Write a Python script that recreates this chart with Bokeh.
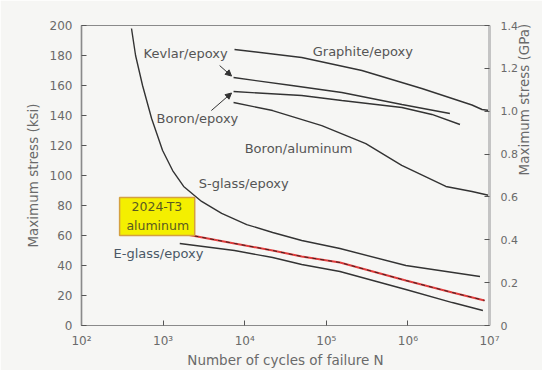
import math
from bokeh.plotting import figure
from bokeh.models import (Range1d, LinearAxis, FixedTicker, CustomJSTickFormatter,
                          Arrow, NormalHead, BoxAnnotation)
from bokeh.core.properties import value
from bokeh.embed import file_html
from bokeh.resources import INLINE

# ---- data (cycles N, maximum stress in ksi) ----
graphite_N = [7500, 50000, 273000, 1480000, 6100000, 8100000, 10000000]
graphite_ksi = [184, 178.7, 170, 158, 147, 144, 143.3]

kevlar_N = [7300, 37800, 155000, 844000, 3270000]
kevlar_ksi = [165.3, 160, 155.3, 147.3, 141.3]

boron_epoxy_N = [7300, 50000, 155000, 844000, 1970000, 4350000]
boron_epoxy_ksi = [156, 153.3, 150, 145.3, 140.7, 134]

boron_al_N = [7300, 22000, 88000, 305000, 840000, 2920000, 6100000, 10000000]
boron_al_ksi = [148.7, 143.3, 133.3, 121.3, 106.7, 92.7, 89.3, 86.7]

sglass_N = [410, 460, 560, 723, 986, 1309, 1786, 2965, 5220, 10590, 22030,
            50000, 147000, 944000, 7640000]
sglass_ksi = [198, 180, 160, 138, 116.7, 103.3, 92.7, 82.7, 74.7, 67.3, 62,
              56.7, 51.3, 40, 32.7]

al2024_N = [1940, 7500, 22000, 50000, 147000, 944000, 3500000, 8700000]
al2024_ksi = [60.7, 54.7, 50, 46, 42, 30, 22, 16.7]

eglass_N = [1600, 7500, 22000, 50000, 147000, 944000, 3500000, 8300000]
eglass_ksi = [54.7, 50, 45.3, 40.7, 36, 24, 15.3, 10]

x_ticks = [1e2, 1e3, 1e4, 1e5, 1e6, 1e7]
y_ticks = [0, 20, 40, 60, 80, 100, 120, 140, 160, 180, 200]
gpa_ticks = [0, 0.2, 0.4, 0.6, 0.8, 1.0, 1.2, 1.4]

label_texts = ["Kevlar/epoxy", "Boron/epoxy", "Graphite/epoxy", "Boron/aluminum", "S-glass/epoxy"]
label_N = [577, 832, 68200, 10000, 2730]
label_ksi = [181.3, 138, 182.7, 118, 94.7]

eglass_label_N = [247]
eglass_label_ksi = [48]

box_left, box_right, box_top, box_bottom = 293, 2440, 85.3, 60
box_texts = ["2024-T3", "aluminum"]
box_text_N = [840, 860]
box_text_ksi = [79.5, 66.5]

# arrows: (x_start, y_start, x_end, y_end)
kevlar_arrow = (4930, 173.3, 6900, 166.3)
boron_arrow = (3900, 143.3, 6900, 155)

BG = "#f6f6f4"
FONT = "DejaVu Sans"

p = figure(width=542, height=370, x_axis_type="log",
           x_range=Range1d(1e2, 1e7), y_range=Range1d(0, 200),
           output_backend="svg", toolbar_location=None,
           min_border_left=81, min_border_right=53,
           min_border_top=25, min_border_bottom=45)
p.background_fill_color = BG
p.border_fill_color = BG
p.outline_line_color = "#8a8a8a"
p.outline_line_width = 1.2
p.xgrid.visible = False
p.ygrid.visible = False

p.extra_y_ranges = {"gpa": Range1d(0, 1.4)}
raxis = LinearAxis(y_range_name="gpa")
p.add_layout(raxis, "right")

xa = p.xaxis[0]
ya = p.yaxis[0]
xa.ticker = FixedTicker(ticks=x_ticks)
xa.formatter = CustomJSTickFormatter(code="""
const s = {2:'\u00b2', 3:'\u00b3', 4:'\u2074', 5:'\u2075', 6:'\u2076', 7:'\u2077'};
return '10' + s[Math.round(Math.log10(tick))];
""")
ya.ticker = FixedTicker(ticks=y_ticks)
raxis.ticker = FixedTicker(ticks=gpa_ticks)
raxis.formatter = CustomJSTickFormatter(code="return tick == 0 ? '0' : tick.toFixed(1);")

for ax in (xa, ya, raxis):
    ax.major_tick_in = 5
    ax.major_tick_out = 0
    ax.minor_tick_in = 0
    ax.minor_tick_out = 0
    ax.major_tick_line_color = "#555555"
    ax.major_label_text_font = FONT
    ax.major_label_text_font_size = "12px"
    ax.major_label_text_color = "#6a6a6a"
    ax.axis_label_text_font = FONT
    ax.axis_label_text_font_size = "13.5px"
    ax.axis_label_text_font_style = "normal"
    ax.axis_label_text_color = "#6a6a6a"

xa.axis_line_color = "#8a8a8a"
ya.axis_line_color = "#8a8a8a"
ya.axis_line_width = 1.5
raxis.axis_line_color = "#c4c4c4"
raxis.axis_line_width = 3
raxis.major_label_text_font_size = "11px"

xa.axis_label = "Number of cycles of failure N"
ya.axis_label = "Maximum stress (ksi)"
raxis.axis_label = "Maximum stress (GPa)"
raxis.axis_label_orientation = math.pi / 2
xa.major_label_standoff = 8
xa.axis_label_standoff = 1
ya.major_label_standoff = 9
ya.axis_label_standoff = 6
raxis.major_label_standoff = 11
raxis.axis_label_standoff = 3

# outer scan frame (top and left edges of the picture)
p.add_layout(BoxAnnotation(left=-69, right=700, top=318, bottom=-200,
                           left_units="screen", right_units="screen",
                           top_units="screen", bottom_units="screen",
                           fill_alpha=0, line_color="#7a7a7a", line_width=1.5,
                           level="underlay"))

LC = "#333333"
for xs, ys in ((graphite_N, graphite_ksi), (kevlar_N, kevlar_ksi),
               (boron_epoxy_N, boron_epoxy_ksi), (boron_al_N, boron_al_ksi),
               (sglass_N, sglass_ksi), (eglass_N, eglass_ksi)):
    p.line(xs, ys, line_color=LC, line_width=1.4)

p.line(al2024_N, al2024_ksi, line_color="#e03c3c", line_width=2)
p.line(al2024_N, al2024_ksi, line_color="#402020", line_width=1, line_dash="4 4")

p.quad(left=[box_left], right=[box_right], top=[box_top], bottom=[box_bottom],
       fill_color="#f4ef00", line_color="#d4a040", line_width=1.5)
p.text(x=box_text_N, y=box_text_ksi, text=box_texts, text_font=value(FONT),
       text_font_size="12.5px", text_color="#5a5a20", text_align="center",
       text_baseline="middle")

p.text(x=label_N, y=label_ksi, text=label_texts, text_font=value(FONT),
       text_font_size="13px", text_color="#555555", text_align="left",
       text_baseline="middle")
p.text(x=eglass_label_N, y=eglass_label_ksi, text=["E-glass/epoxy"], text_font=value(FONT),
       text_font_size="13px", text_color="#4a5866", text_align="left",
       text_baseline="middle")

for (x0, y0, x1, y1) in (kevlar_arrow, boron_arrow):
    p.add_layout(Arrow(end=NormalHead(size=6, fill_color=LC, line_color=LC),
                       x_start=x0, y_start=y0, x_end=x1, y_end=y1,
                       line_color=LC, line_width=1))

open("out.html", "w").write(file_html(p, INLINE))
